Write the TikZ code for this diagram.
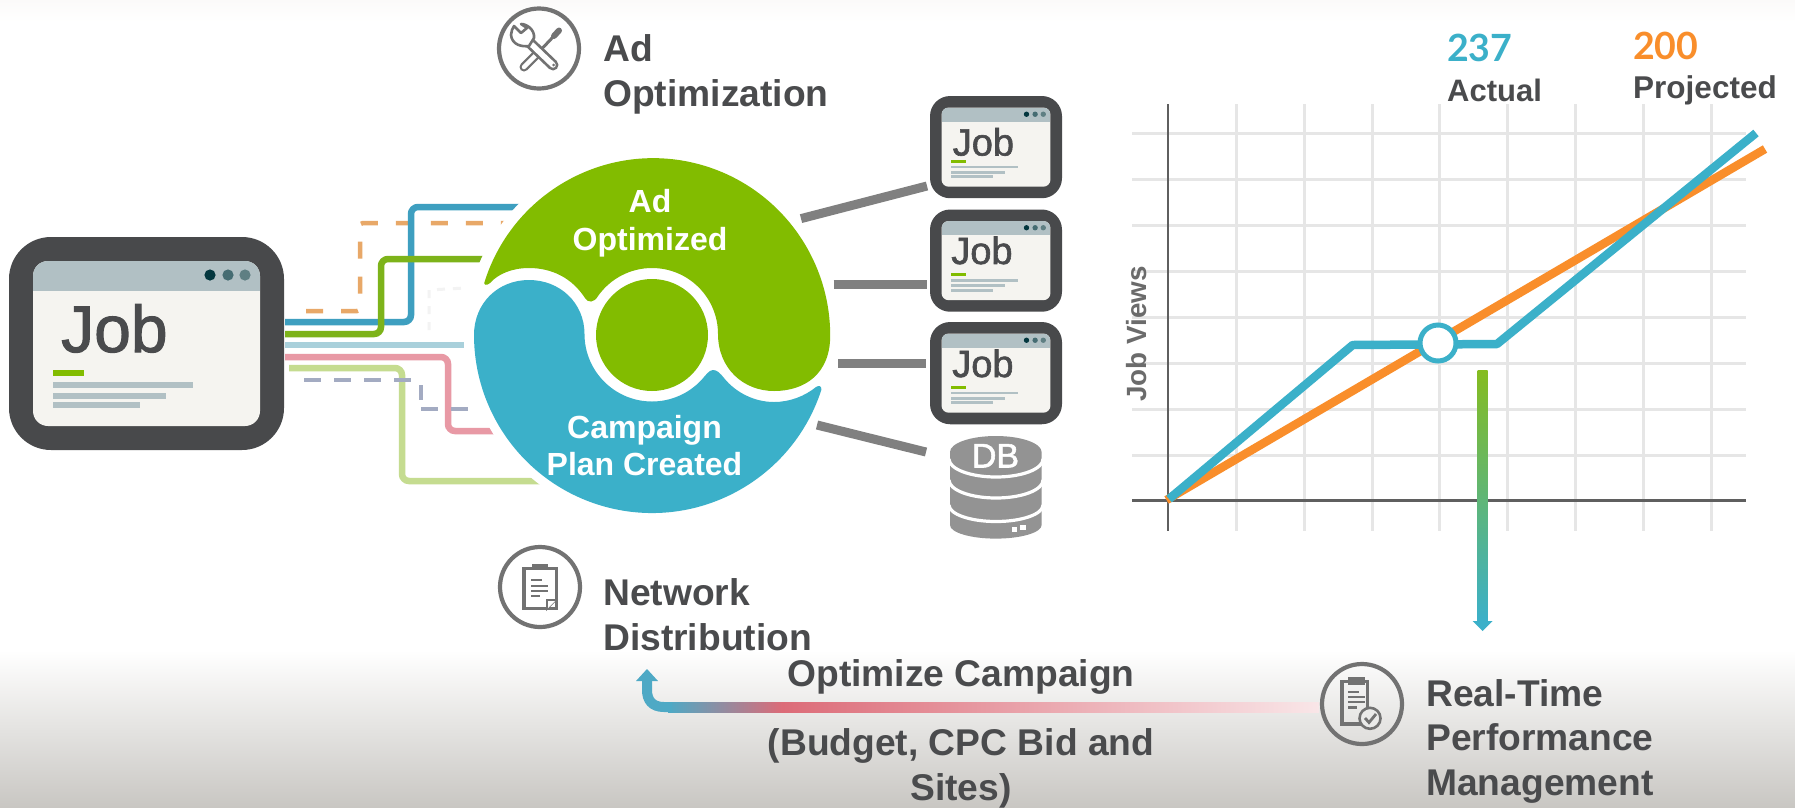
\documentclass[tikz,border=0pt]{standalone}
\usepackage{fontspec}
\setmainfont{Liberation Sans}
\newfontfamily\numfont{Lato}
\newfontfamily\jobfont[FakeBold=1.6]{Liberation Sans}
\usetikzlibrary{calc}
\definecolor{ink}{HTML}{4A4B4D}
\definecolor{frame}{HTML}{48494B}
\definecolor{paper}{HTML}{F5F4F0}
\definecolor{bar}{HTML}{B1C0C4}
\definecolor{lime}{HTML}{82BC00}
\definecolor{teal}{HTML}{3BB0C9}
\definecolor{tang}{HTML}{F98E2B}
\definecolor{icon}{HTML}{727272}
\definecolor{link}{HTML}{808080}
\definecolor{gridc}{HTML}{E6E6E6}
\definecolor{axisc}{HTML}{5F5F5F}
\definecolor{dbc}{HTML}{939393}
\definecolor{bgbot}{HTML}{C9C7C3}
\definecolor{bgtop}{HTML}{FBFAF9}
\definecolor{viewsc}{HTML}{6B6B6B}
\definecolor{vtop}{HTML}{85BC20}
\definecolor{rose}{HTML}{DC6B78}
\definecolor{rosepale}{HTML}{F9E6E8}
\definecolor{steel}{HTML}{4EA9C5}
\definecolor{checkbg}{HTML}{EAEAE9}
\tikzset{
  txt/.style={inner sep=0pt,text=ink,font=\fontsize{37.2}{44.5}\selectfont\bfseries},
  wtxt/.style={inner sep=0pt,text=white,font=\fontsize{32}{37.5}\selectfont\bfseries,align=center},
  route/.style={line width=6.5pt,rounded corners=7pt},
  gridline/.style={gridc,line width=3pt},
  linkline/.style={link,line width=9pt},
  ring/.style={icon,line width=4.2pt},
  clip board/.style={icon,line width=3.2pt},
  note/.style={icon,line width=2.4pt},
  HTML/.code={\definecolor{tmpc}{HTML}{#1}\pgfkeysalso{color=tmpc}},
}
% name, x, y, scale, font size, text x offset, baseline offset
\newcommand{\jobwin}[7]{%
  \begin{scope}[shift={(#2,#3)},scale=#4]
    \coordinate (#1) at (0,106);
    \fill[frame] (0,0) [rounded corners=#4*42pt] rectangle (275,213);
    \fill[paper] (24,24) [rounded corners=#4*15pt] rectangle (251,189);
    \begin{scope}
      \clip (24,24) [rounded corners=#4*15pt] rectangle (251,189);
      \fill[bar] (24,24) rectangle (251,54);
    \end{scope}
    \fill[HTML=03373F] (201,38) circle (5.6);
    \fill[HTML=456C72] (219,38) circle (5.6);
    \fill[HTML=5F7F83] (236,38) circle (5.6);
    \node[inner sep=0pt,anchor=base west,text=ink,font=\fontsize{#5}{#5}\selectfont\jobfont] (#1-t) at (#6,#7) {Job};
    \fill[lime] (44,133) rectangle (75,139);
    \fill[bar] (44,145) rectangle (184,151);
    \fill[bar] (44,156) rectangle (157,162);
    \fill[bar] (44,165) rectangle (131,171);
  \end{scope}}
\begin{document}
\begin{tikzpicture}[x=1pt,y=1pt,yscale=-1]
\useasboundingbox (0,0) rectangle (1795,807);
% ---------- background
\fill[white] (0,0) rectangle (1795,807);
\shade[top color=bgtop,bottom color=white] (0,0) rectangle (1795,22);
\shade[top color=white,bottom color=bgbot] (0,650) rectangle (1795,807);
% ---------- routed lines from the job window
\coordinate (r0) at (285,311);
\coordinate (r1) at (285,322);
\coordinate (r2) at (285,334);
\coordinate (r3) at (285,345);
\coordinate (r4) at (285,357);
\coordinate (r5) at (289,368);
\coordinate (r6) at (304,380);
\draw[line width=3pt,HTML=F3F3F3,dash pattern=on 8pt off 8pt] (429,330) -- (429,290) -- (465,288);
\draw[line width=4.5pt,HTML=E8A868,dash pattern=on 17pt off 18pt,rounded corners=3pt] (306,311) -- (360,311) -- (360,223) -- (520,223);
\draw[route,HTML=3E9FC0] (r1) -- (411,322) -- (411,207) -- (530,207);
\draw[route,HTML=7DB31A] (r2) -- (381,334) -- (381,259) -- (530,259);
\draw[route,HTML=A9D0DB] (r3) -- (464,345);
\draw[route,HTML=E899A5] (r4) -- (448,357) -- (448,431) -- (530,431);
\draw[route,HTML=C5DC90] (r5) -- (402,368) -- (402,481) -- (560,481);
\draw[line width=3.5pt,HTML=A3ABC2,dash pattern=on 17pt off 13pt] (r6) -- (421,380) (421,385) -- (421,400) (421,409) -- (490,409);
\jobwin{bigjob}{9}{237}{1}{66}{52}{115}
% ---------- central disc
\fill[white] (652,335) circle (187);
\path[fill=lime] (484.5,282) arc (197.6:360:177 and 177.5) coordinate (gr)
  .. controls +(0,38) and (805,391) .. (774,391)
  .. controls (743,391) and (718,368) .. (718,334)
  arc (360:215:66)
  .. controls (594,303) and (588,303) .. (585,298)
  .. controls (572,278) and (552,268) .. (529,268)
  .. controls (512,268) and (498,274) .. (490,283)
  .. controls (487,286) and (483,285) .. (484.5,282) -- cycle;
\fill[lime] (652,335) circle (56);
\path[fill=teal] (821.3,390) arc (18:180:178)
  .. controls (474,303) and (498,280) .. (529,280)
  .. controls (560,280) and (584.5,303) .. (584.5,334)
  arc (180:43:67.5)
  .. controls (706,375) and (709,370) .. (713,370)
  .. controls (717,370) and (720,373) .. (724,378)
  .. controls (736,393) and (755,402) .. (774,402)
  .. controls (790,402) and (805,396) .. (816,387)
  .. controls (819,385) and (822,386) .. (821.3,390) -- cycle;
\node[wtxt,anchor=base] (adopt) at (650,250) {Ad\\Optimized};
\node[wtxt,anchor=base] (plan) at (644.5,475.5) {Campaign\\Plan Created};
% ---------- small windows and links
\jobwin{job1}{930}{96}{.48}{38}{47}{124}
\jobwin{job2}{930}{209.5}{.48}{38}{44}{113.5}
\jobwin{job3}{930}{322}{.48}{38}{46}{114.6}
\coordinate (l1a) at (801,218.6); \coordinate (l1b) at (927,186);
\coordinate (l2a) at (833.5,284); \coordinate (l2b) at (926.5,284);
\coordinate (l3a) at (838,363.6); \coordinate (l3b) at (926,363.6);
\coordinate (l4a) at (817,425);   \coordinate (l4b) at (926,452);
\draw[linkline] (l1a) -- (l1b);
\draw[linkline] (l2a) -- (l2b);
\draw[linkline] (l3a) -- (l3b);
\draw[linkline] (l4a) -- (l4b);
% ---------- database
\path[fill=dbc] (950,452) arc (180:360:45.8 and 16) -- (1041.6,525) arc (0:180:45.8 and 13.6) -- cycle;
\draw[white,line width=3.2pt] (949,459) arc (180:0:47 and 18);
\draw[white,line width=3.2pt] (949,480) arc (180:0:47 and 18);
\draw[white,line width=3.2pt] (949,505) arc (180:0:47 and 16.5);
\fill[white] (1012,526.5) rectangle (1017,531.5);
\fill[white] (1020,524.5) rectangle (1026,530);
\node[inner sep=0pt,text=white,anchor=base,font=\fontsize{34}{34}\selectfont\jobfont] (dbt) at (995.5,467.5) {DB};
% ---------- ad-optimization icon
\draw[ring] (539,48.5) circle (40);
\draw[icon,line width=9pt,line cap=round] (524,67) -- (536,55);
\draw[white,line width=4.5pt,line cap=round] (524,67) -- (536,55);
\draw[icon,line width=3pt] (536,55) -- (553,37);
\draw[icon,line width=6pt,line cap=round] (554,36) -- (559,30.5);
\draw[icon,line width=11pt,line cap=round] (530,43) -- (553,65);
\draw[white,line width=5.5pt,line cap=round] (530,43) -- (553,65);
\path[draw=icon,line width=2.6pt,fill=white,line join=round] (514,26) -- (521,33) -- (527,28) -- (521,24) .. controls (527,24) and (535,30) .. (534,38) -- (529,46) .. controls (522,47) and (512,45) .. (511,35) -- (512,30) -- cycle;
\fill[icon] (553.5,65) circle (1.5);
\node[txt,anchor=base west,align=left] (adlab) at (603,106) {Ad\\Optimization};
% ---------- network-distribution icon
\draw[ring] (540,587) circle (40);
\draw[clip board] (524,568.5) -- (556.5,568.5) -- (556.5,608.5) -- (524,608.5) -- cycle;
\fill[icon] (532,563.5) rectangle (548,570);
\draw[note] (531,580) -- (542,580) (531,585.7) -- (548,585.7) (531,590.7) -- (548,590.7) (531,596) -- (540,596);
\fill[icon] (546,599) -- (558,599) -- (546,611) -- cycle;
\fill[white] (548,601) -- (555,601) -- (548,608) -- cycle;
\node[txt,anchor=base west,align=left] (netlab) at (603,650) {Network\\Distribution};
% ---------- chart
\foreach \gx in {1236,1304,1372,1439.5,1507,1575,1643.4,1711} \draw[gridline] (\gx,104) -- (\gx,531);
\foreach \gy in {133,179,225,271,317,363,409,455} \draw[gridline] (1132,\gy) -- (1746,\gy);
\draw[axisc,line width=2.5pt] (1168,104) -- (1168,531);
\draw[axisc,line width=3pt] (1132,500.7) -- (1746,500.7);
\coordinate (o0) at (1166.5,500);
\coordinate (o1) at (1765,149);
\coordinate (b0) at (1169,499);
\coordinate (b1) at (1352.7,345);
\coordinate (b2) at (1497,344);
\coordinate (b3) at (1756,133);
\draw[tang,line width=8.5pt] (o0) -- (o1);
\draw[teal,line width=8.5pt,line join=round] (b0) -- (b1) -- (b2) -- (b3);
\draw[teal,fill=white,line width=5pt] (1438,343) circle (18);
\node[inner sep=0pt,text=viewsc,rotate=90,anchor=base,font=\fontsize{27.8}{28}\selectfont\bfseries] (jv) at (1146.5,334) {Job Views};
\node[inner sep=0pt,anchor=base west,text=teal,font=\fontsize{37.5}{38}\selectfont\numfont\bfseries] (n237) at (1447,61.4) {237};
\node[inner sep=0pt,anchor=base west,text=tang,font=\fontsize{37.5}{38}\selectfont\numfont\bfseries] (n200) at (1633,59) {200};
\node[inner sep=0pt,anchor=base west,text=ink,font=\fontsize{31}{31}\selectfont\bfseries] (act) at (1447,101) {Actual};
\node[inner sep=0pt,anchor=base west,text=ink,font=\fontsize{31.5}{31.5}\selectfont\bfseries] (proj) at (1633,98) {Projected};
% ---------- feedback arrows
\coordinate (v0) at (1482.5,370);
\coordinate (v1) at (1482.5,621);
\coordinate (v2) at (1482.5,631);
\shade[top color=vtop,bottom color=teal] ($(v0)+(-5,0)$) rectangle ($(v1)+(5,0)$);
\fill[teal] ($(v1)+(-10,0)$) -- ($(v1)+(10,0)$) -- (v2) -- cycle;
\coordinate (h0) at (1319,707);
\coordinate (h1) at (782,707);
\coordinate (h2) at (672,707);
\coordinate (h3) at (647,681);
\coordinate (h4) at (647,669);
\shade[left color=rose,right color=rosepale] (782,702) rectangle (1319,712);
\shade[left color=steel,right color=rose] (668,702) rectangle (782,712);
\draw[steel,line width=10pt] (h2) -- (664,707) .. controls (652,707) and (647,700) .. (647,690) -- (h3);
\fill[steel] ($(h3)+(-11,0)$) -- ($(h3)+(11,0)$) -- (h4) -- cycle;
\node[txt,anchor=base] (oc) at (961,686) {Optimize Campaign};
\node[txt,anchor=base,align=center,font=\fontsize{37.2}{45}\selectfont\bfseries] (bud) at (961,800) {(Budget, CPC Bid and\\Sites)};
% ---------- real-time icon
\draw[ring] (1362,704) circle (40);
\draw[clip board] (1342,681.5) -- (1367.5,681.5) -- (1367.5,724) -- (1342,724) -- cycle;
\fill[icon] (1348,677) rectangle (1365,685);
\draw[note] (1348,691.7) -- (1359,691.7) (1348,696.7) -- (1365,696.7) (1348,701.7) -- (1365,701.7) (1348,707.3) -- (1357,707.3);
\draw[icon,fill=checkbg,line width=2.6pt] (1370,718.3) circle (10.5);
\draw[icon,line width=2.8pt] (1365,718) -- (1369,722.5) -- (1376,714);
\node[txt,anchor=base west,align=left] (rtlab) at (1426,795) {Real-Time\\Performance\\Management};
\end{tikzpicture}
\end{document}
